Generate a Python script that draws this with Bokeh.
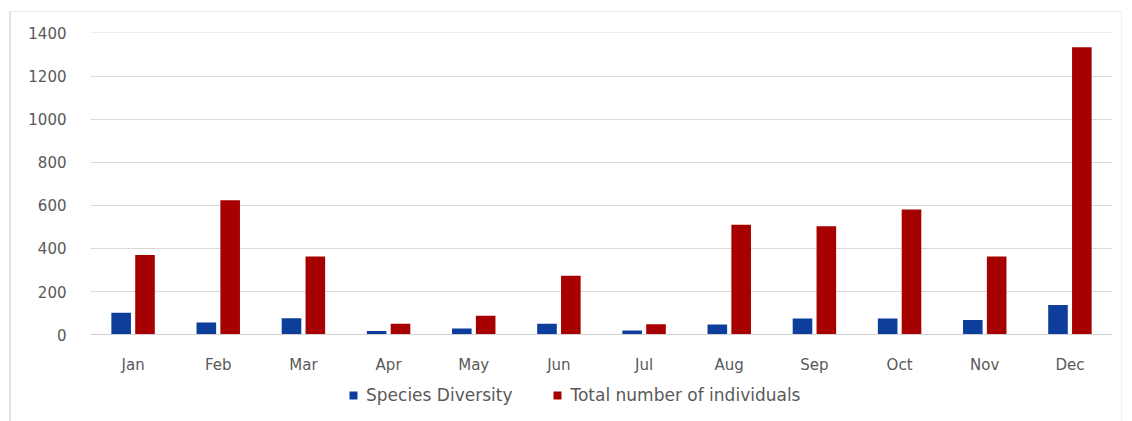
from bokeh.plotting import figure
from bokeh.models import ColumnDataSource, Legend, LegendItem, FixedTicker, Range1d
from bokeh.transform import dodge
from bokeh.embed import file_html
from bokeh.resources import INLINE

months = ["Jan", "Feb", "Mar", "Apr", "May", "Jun", "Jul", "Aug", "Sep", "Oct", "Nov", "Dec"]
species_diversity = [102, 56, 76, 17, 28, 50, 19, 47, 75, 75, 68, 137]
total_individuals = [370, 623, 363, 50, 87, 273, 48, 510, 503, 581, 363, 1334]
y_ticks = [0, 200, 400, 600, 800, 1000, 1200, 1400]

src = ColumnDataSource(dict(month=months, sd=species_diversity, ti=total_individuals))

# frame extends below zero so the legend can sit inside it
p = figure(x_range=months, y_range=Range1d(-380, 1402), width=1113, height=410,
           output_backend="svg", toolbar_location=None,
           min_border_left=79, min_border_right=12, min_border_top=20, min_border_bottom=6)
p.styles = {"border-left": "2px solid #e3e3e3", "border-top": "1px solid #ececec",
            "border-right": "1px solid #f0f0f0",
            "margin-left": "9px", "margin-top": "11px"}
p.outline_line_color = None
p.background_fill_color = "white"
p.border_fill_color = "white"

FONT = "DejaVu Sans"
r1 = p.vbar(x=dodge("month", -0.14, range=p.x_range), top="sd", width=0.23, source=src,
            fill_color="#0e3e9c", line_color=None)
r2 = p.vbar(x=dodge("month", 0.14, range=p.x_range), top="ti", width=0.23, source=src,
            fill_color="#a60000", line_color=None)

p.yaxis.ticker = FixedTicker(ticks=y_ticks)
p.yaxis.axis_line_color = None
p.yaxis.major_tick_line_color = None
p.yaxis.minor_tick_line_color = None
p.yaxis.major_label_text_font = FONT
p.yaxis.major_label_text_font_size = "15px"
p.yaxis.major_label_text_color = "#595959"
p.yaxis.major_label_standoff = 18

p.xaxis.fixed_location = 0
p.xaxis.axis_line_color = "#d0d0d0"
p.xaxis.major_tick_line_color = None
p.xaxis.minor_tick_line_color = None
p.xaxis.major_label_text_font = FONT
p.xaxis.major_label_text_font_size = "15px"
p.xaxis.major_label_text_color = "#595959"
p.xaxis.major_label_standoff = 15

p.xgrid.grid_line_color = None
p.ygrid.grid_line_color = "#d9d9d9"
p.ygrid.grid_line_width = 1
p.x_range.range_padding = 0

legend = Legend(items=[LegendItem(label="Species Diversity", renderers=[r1]),
                       LegendItem(label="Total number of individuals", renderers=[r2])],
                orientation="horizontal", location=(258, 11),
                glyph_width=10, glyph_height=10, label_standoff=8, spacing=40,
                padding=0, margin=0, border_line_color=None, background_fill_alpha=0,
                label_text_font=FONT, label_text_font_size="17px", label_text_color="#595959")
p.add_layout(legend, "center")

open("out.html", "w").write(file_html(p, INLINE))
